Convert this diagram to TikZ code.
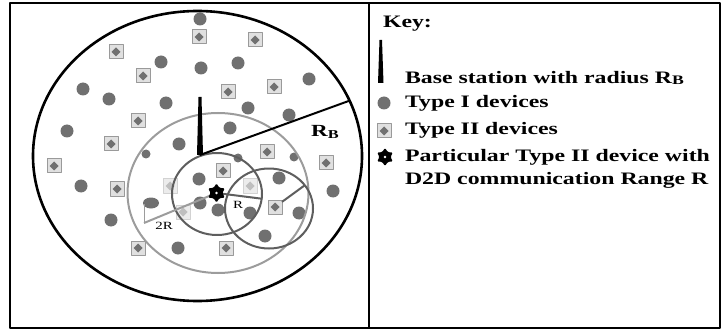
\documentclass[tikz,border=0pt]{standalone}
\usepackage{fontspec}
\newfontfamily\keyfont{Liberation Serif}[FakeStretch=1.36]
\usepackage{tikz}
\usetikzlibrary{positioning, shapes.geometric}
\definecolor{devgray}{HTML}{707070}
\definecolor{boxgray}{HTML}{9A9A9A}
\definecolor{boxfill}{HTML}{E0E0E0}
\definecolor{tworgray}{HTML}{9C9C9C}
\definecolor{rgray}{HTML}{5E5E5E}

\begin{document}
\begin{tikzpicture}[x=1pt, y=-1pt, line join=round]
\tikzset{
    every node/.style={inner sep=0pt, outer sep=0pt},
    typeone/.style={circle, fill=devgray, minimum size=13pt},
    smalldot/.style={typeone, minimum size=9pt},
    typetwo/.style={rectangle, draw=boxgray, fill=boxfill, line width=1pt, minimum size=14pt,
        path picture={\fill[#1] (path picture bounding box.center) +(0,4.5pt) -- +(4.5pt,0) -- +(0,-4.5pt) -- +(-4.5pt,0) -- cycle;}},
    typetwo/.default=devgray,
    faded/.style={typetwo=devgray!45, draw=boxgray!45, fill=boxfill!60},
    particular/.style={star, star points=6, star point ratio=1.6, minimum size=19pt, fill=black,
        rounded corners=1.2pt, path picture={\fill[white] (path picture bounding box.center) circle (1.3pt);}},
    cellrange/.style={ellipse, draw=black, line width=2.6pt},
    outerrange/.style={ellipse, draw=tworgray, line width=2pt},
    innerrange/.style={ellipse, draw=rgray, line width=2pt},
    keytext/.style={font=\keyfont\bfseries\fontsize{17.5}{20}\selectfont, anchor=base west},
    smalllabel/.style={font=\keyfont\fontsize{11}{11}\selectfont}
}
\useasboundingbox (0,0) rectangle (722,331);

% frame
\draw[line width=1.4pt] (10,3) rectangle (720,328);
\draw[line width=1.4pt] (369,3) -- (369,328);

% devices
\foreach \x/\y [count=\i] in {200/19, 161/62, 201/68, 238/63, 309/79, 83/89, 109/99, 166/103,
    248/108, 289/115, 67/131, 230/128, 179/144, 81/186, 199/179, 279/178, 333/191, 200/203,
    218/210, 250/213, 299/213, 111/220, 265/236, 178/248}
    \node[typeone] (dot\i) at (\x,\y) {};
\foreach \x/\y [count=\i] in {146/154, 238/158, 294/157}
    \node[smalldot] (sdot\i) at (\x,\y) {};
\node[typeone, ellipse, minimum width=16pt, minimum height=11pt] (dotwide) at (151,203) {};
\foreach \x/\y [count=\i] in {199/37, 255/40, 116/52, 143/76, 228/92, 274/87, 138/121, 111/144,
    54/166, 267/152, 326/163, 223/171, 117/189, 138/248, 226/248}
    \node[typetwo] (box\i) at (\x,\y) {};
\foreach \x/\y [count=\i] in {170/186, 250/186, 183/212}
    \node[faded] (fbox\i) at (\x,\y) {};
\node[typetwo] (hubdev) at (275,207) {};

% ranges
\node[cellrange, minimum width=329pt, minimum height=290pt] (cell) at (197.5,156) {};
\node[outerrange, minimum width=181pt, minimum height=160pt] (rngtwo) at (218,193) {};
\node[innerrange, minimum width=90pt, minimum height=82pt] (rngone) at (217,194) {};
\node[innerrange, minimum width=88pt, minimum height=80pt] (rngnext) at (269,208.5) {};

% base station
\fill[black] (198.5,97) -- (201.5,97) -- (203,155) -- (197,155) -- cycle;
\coordinate (bs) at (200,155);
\coordinate (pdev) at (216.5,193);
\coordinate (tworend) at (144,223);
\coordinate (twortop) at (144,204);

\draw[line width=2pt] (bs) -- (cell.20);
\draw[rgray, line width=2pt] (pdev) -- (rngone.-6);
\draw[tworgray, line width=2pt] (pdev) -- (tworend);
\draw[tworgray, line width=0.6pt] (tworend) -- (twortop);
\draw[rgray, line width=2pt] (hubdev) -- (rngnext.33);
\node[particular] (pdevice) at (pdev) {};

% labels
\node[font=\keyfont\bfseries\fontsize{17}{17}\selectfont] (rblabel) at (325,132)
    {R\raisebox{-1.5pt}{\fontsize{12}{12}\selectfont B}};
\node[smalllabel] (rlabel) at (238,205) {R};
\node[smalllabel] (trlabel) at (164,226) {2R};

% key
\node[keytext] (keytitle) at (383,28) {Key:};
\fill[black] (379.5,40) -- (382,40) -- (383.5,83) -- (378,83) -- cycle;
\node[keytext] (keybs) at (405,84) {Base station with radius R\raisebox{-1pt}{\fontsize{13}{13}\selectfont B}};
\node[typeone] (keydot) at (384,103) {};
\node[keytext] (keyone) at (405,108) {Type I devices};
\node[typetwo] (keybox) at (384,131) {};
\node[keytext] (keytwo) at (405,135) {Type II devices};
\node[particular, minimum size=18pt] (keydev) at (385,157) {};
\node[keytext] (keyparta) at (405,161) {Particular Type II device with};
\node[keytext] (keypartb) at (405,185) {D2D communication Range R};
\end{tikzpicture}
\end{document}
